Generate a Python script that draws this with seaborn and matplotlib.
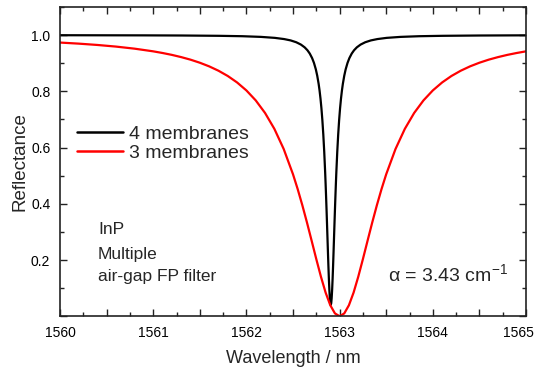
import matplotlib
matplotlib.use("Agg")
import matplotlib.pyplot as plt
import matplotlib.transforms as mtransforms
from matplotlib.ticker import MultipleLocator, FuncFormatter
import seaborn as sns
import pandas as pd

# 4 membranes (black)
x_four = [1560.0, 1560.905, 1561.305, 1561.705, 1561.955, 1562.155, 1562.305, 1562.405,
          1562.475, 1562.535, 1562.585, 1562.625, 1562.655, 1562.68, 1562.705, 1562.725,
          1562.745, 1562.76, 1562.775, 1562.785, 1562.795, 1562.805, 1562.815, 1562.825,
          1562.835, 1562.845, 1562.85, 1562.855, 1562.86, 1562.865, 1562.87, 1562.875,
          1562.88, 1562.885, 1562.89, 1562.895, 1562.9, 1562.905,
          1562.91, 1562.915, 1562.92, 1562.925, 1562.93, 1562.935, 1562.94, 1562.945,
          1562.95, 1562.955, 1562.96, 1562.965, 1562.975, 1562.985, 1562.995, 1563.005,
          1563.015, 1563.025, 1563.035, 1563.05, 1563.065, 1563.085, 1563.105, 1563.13,
          1563.155, 1563.185, 1563.225, 1563.275, 1563.335, 1563.405, 1563.505, 1563.655,
          1563.855, 1564.105, 1564.505, 1564.905, 1565.0]
r_four = [0.9996, 0.9991, 0.9986, 0.9975, 0.9961, 0.9937, 0.9902, 0.9859,
          0.9811, 0.9746, 0.9663, 0.9565, 0.9461, 0.9343, 0.9183, 0.9011,
          0.8782, 0.8556, 0.8268, 0.8029, 0.7742, 0.7397, 0.6978, 0.6471,
          0.5856, 0.5121, 0.4705, 0.4258, 0.3783, 0.3287, 0.2778, 0.2270,
          0.1781, 0.1332, 0.0947, 0.0651, 0.0464, 0.0400,
          0.0464, 0.0651, 0.0947, 0.1332, 0.1781, 0.2270, 0.2778, 0.3287,
          0.3783, 0.4258, 0.4705, 0.5121, 0.5856, 0.6471, 0.6978, 0.7397,
          0.7742, 0.8029, 0.8268, 0.8556, 0.8782, 0.9011, 0.9183, 0.9343,
          0.9461, 0.9565, 0.9663, 0.9746, 0.9811, 0.9859, 0.9902, 0.9937,
          0.9961, 0.9975, 0.9986, 0.9991, 0.9992]

# 3 membranes (red)
x_three = [1560.0, 1560.2, 1560.4, 1560.6, 1560.8, 1561.0, 1561.1, 1561.2, 1561.3,
           1561.4, 1561.5, 1561.6, 1561.7, 1561.8, 1561.9, 1562.0, 1562.1, 1562.2,
           1562.3, 1562.4, 1562.5, 1562.55, 1562.6, 1562.65, 1562.7, 1562.75, 1562.8,
           1562.85, 1562.9, 1562.95, 1563.0, 1563.05, 1563.1, 1563.15, 1563.2, 1563.25,
           1563.3, 1563.35, 1563.4, 1563.45, 1563.5, 1563.6, 1563.7, 1563.8, 1563.9,
           1564.0, 1564.1, 1564.2, 1564.3, 1564.4, 1564.5, 1564.6, 1564.7, 1564.8,
           1564.9, 1565.0]
r_three = [0.9735, 0.9697, 0.9650, 0.9592, 0.9518, 0.9423, 0.9364, 0.9297, 0.9218,
           0.9127, 0.9018, 0.8889, 0.8734, 0.8546, 0.8316, 0.8032, 0.7678, 0.7231,
           0.6666, 0.5950, 0.5050, 0.4525, 0.3950, 0.3333, 0.2686, 0.2032, 0.1404,
           0.0841, 0.0392, 0.0101, 0.0, 0.0101, 0.0392, 0.0841, 0.1404, 0.2032,
           0.2686, 0.3333, 0.3950, 0.4525, 0.5050, 0.5950, 0.6666, 0.7231, 0.7678,
           0.8032, 0.8316, 0.8546, 0.8734, 0.8889, 0.9018, 0.9127, 0.9218, 0.9297,
           0.9364, 0.9423]

labels = ["4 membranes", "3 membranes"]
colors = ["#000000", "#ff0000"]

df = pd.concat([
    pd.DataFrame({"Wavelength": x_four, "Reflectance": r_four, "Sample": labels[0]}),
    pd.DataFrame({"Wavelength": x_three, "Reflectance": r_three, "Sample": labels[1]}),
], ignore_index=True)

sns.set_theme(style="ticks")
plt.rcParams["font.family"] = ["Liberation Sans", "DejaVu Sans"]
plt.rcParams["mathtext.fontset"] = "custom"
plt.rcParams["mathtext.rm"] = "Liberation Sans"
plt.rcParams["mathtext.it"] = "Liberation Sans:italic"

fig = plt.figure(figsize=(5.36, 3.69), dpi=100)
ax = fig.add_axes([60/536, 1 - 316.25/369, 466/536, 309.25/369])

sns.lineplot(data=df, x="Wavelength", y="Reflectance", hue="Sample",
             palette=dict(zip(labels, colors)), sort=False, estimator=None,
             linewidth=1.6, ax=ax, legend=True)

ax.set_xlim(1560, 1565)
ax.set_ylim(0, 1.1)
ax.xaxis.set_major_locator(MultipleLocator(0.5))
ax.xaxis.set_minor_locator(MultipleLocator(0.25))
ax.xaxis.set_major_formatter(FuncFormatter(lambda v, p: f"{v:.0f}" if abs(v - round(v)) < 1e-6 else ""))
ax.yaxis.set_major_locator(MultipleLocator(0.2))
ax.yaxis.set_minor_locator(MultipleLocator(0.1))
ax.yaxis.set_major_formatter(FuncFormatter(lambda v, p: "" if abs(v) < 1e-6 else f"{v:.1f}"))

ax.tick_params(which="both", direction="in", top=True, right=True, colors="#222222",
               labelcolor="black", labelsize=10, width=1.0)
ax.tick_params(which="major", length=5, pad=7)
ax.tick_params(which="minor", length=3)
for s in ax.spines.values():
    s.set_color("#222222")
    s.set_linewidth(1.2)

ax.set_xlabel("Wavelength / nm", fontsize=13, labelpad=7)
ax.set_ylabel("Reflectance", fontsize=13.5, labelpad=2)

leg = ax.legend(loc="center left", bbox_to_anchor=(0.0365, 0.5575), frameon=False,
                fontsize=14, handlelength=2.35, handletextpad=0.3,
                labelspacing=0.08, borderpad=0, borderaxespad=0)
for line in leg.get_lines():
    line.set_linewidth(1.8)

ax.text(0.0815, 0.282, "InP", transform=ax.transAxes, fontsize=12.5, va="center", ha="left")
ax.text(0.0815, 0.201, "Multiple", transform=ax.transAxes, fontsize=12.5, va="center", ha="left")
ax.text(0.0815, 0.130, "air-gap FP filter", transform=ax.transAxes, fontsize=12.5, va="center", ha="left")
ax.text(0.703, 0.135, "α = 3.43 cm$^{\\mathregular{-1}}$", transform=ax.transAxes,
        fontsize=14, va="center", ha="left")

# keep the last x tick label ("1565") inside the canvas, as in the reference
fig.canvas.draw()
for tick in ax.xaxis.get_major_ticks():
    if abs(tick.get_loc() - 1565) < 1e-6:
        tick.label1.set_horizontalalignment("right")
        tick.label1.set_transform(tick.label1.get_transform() +
                                  mtransforms.ScaledTranslation(8/100, 0, fig.dpi_scale_trans))

fig.savefig("out.png", dpi=100)
